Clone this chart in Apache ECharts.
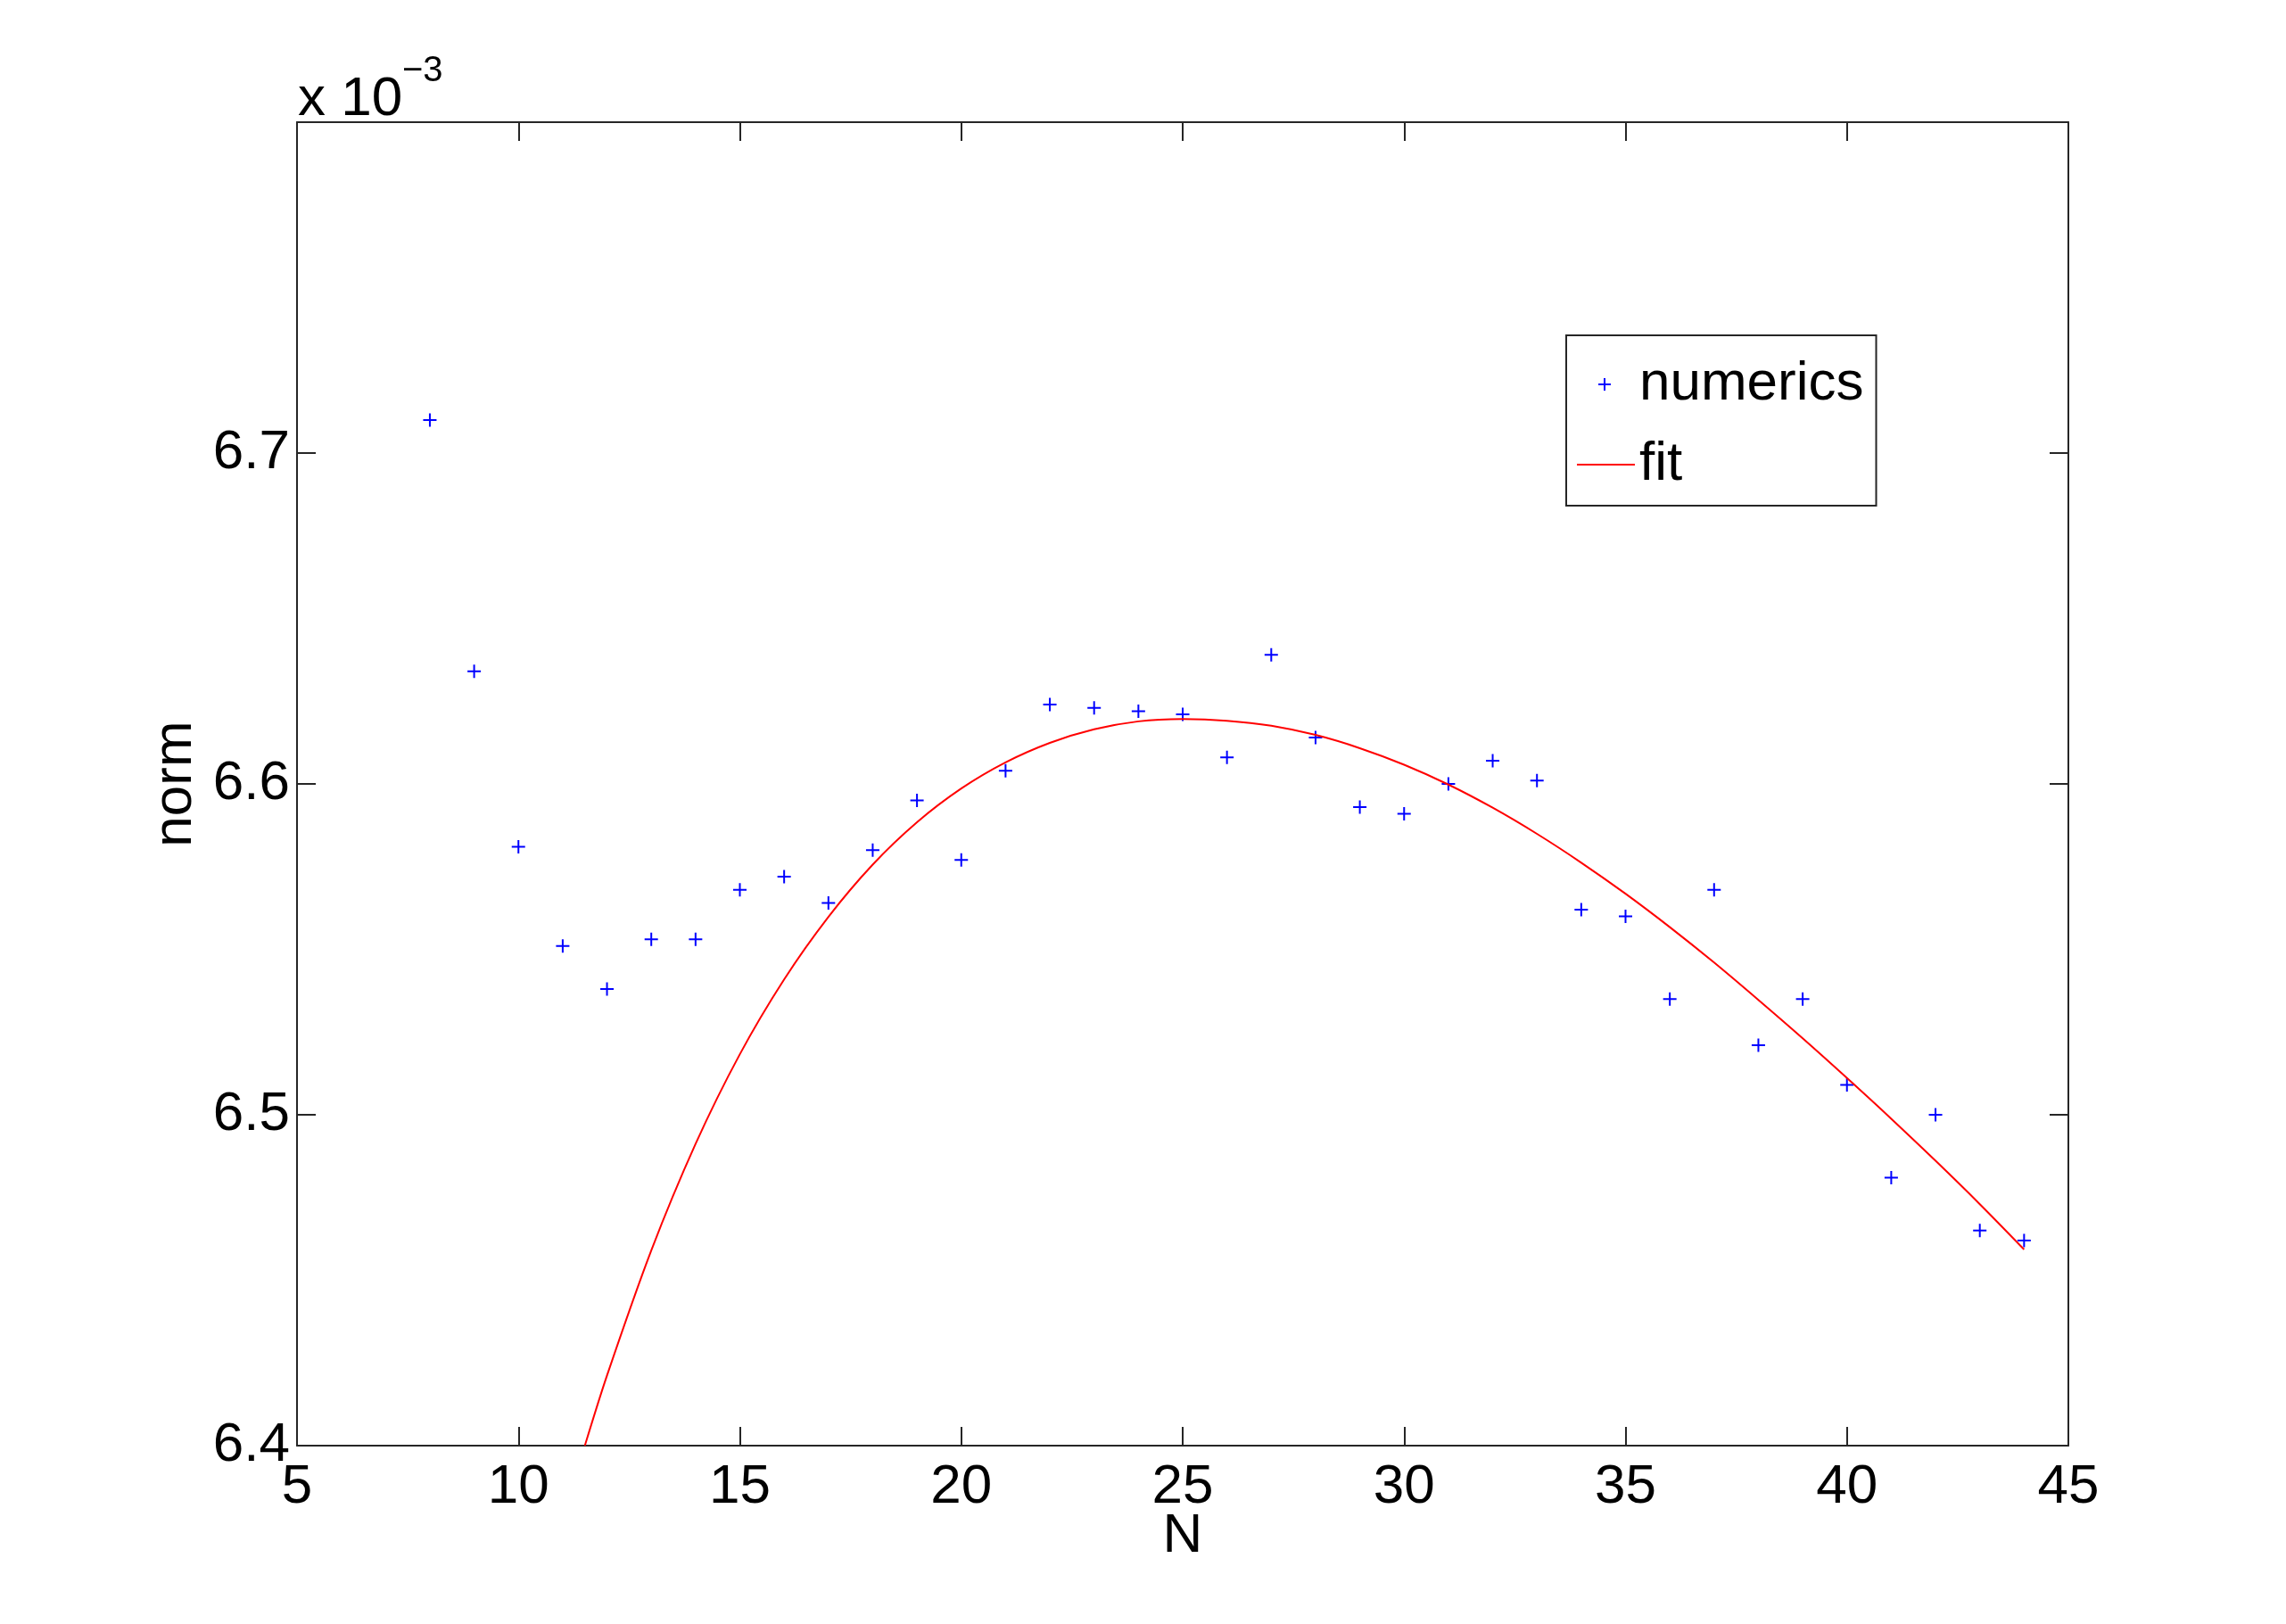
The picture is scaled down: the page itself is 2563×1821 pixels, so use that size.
<!DOCTYPE html>
<html><head><meta charset="utf-8">
<script src="https://cdn.jsdelivr.net/npm/echarts@6/dist/echarts.min.js"></script>
<style>html,body{margin:0;padding:0;background:#fff}#c{width:2563px;height:1821px}</style>
</head><body><div id="c"></div>
<script>
// x values of the numerical results
const nValues = [8,9,10,11,12,13,14,15,16,17,18,19,20,21,22,23,24,25,26,27,28,29,30,31,32,33,34,35,36,37,38,39,40,41,42,43,44];
// norm values, in units of 1e-3
const numerics = [6.710,6.634,6.581,6.551,6.538,6.553,6.553,6.568,6.572,6.564,6.580,6.595,6.577,6.604,6.624,6.623,6.622,6.621,6.608,6.639,6.614,6.593,6.591,6.600,6.607,6.601,6.562,6.560,6.535,6.568,6.521,6.535,6.509,6.481,6.500,6.465,6.462];
// fit curve
const fitN = [11.5,12,13,14,15,16,17,18,19,20,21,22,23,24,25,26,27,28,29,30,31,32,33,34,35,36,37,38,39,40,41,42,43,44];
const fitValues = [6.400,6.4212,6.4590,6.4912,6.5183,6.5409,6.5598,6.5756,6.5884,6.5986,6.6065,6.6124,6.6165,6.6189,6.6196,6.6191,6.6176,6.6148,6.6108,6.6058,6.5998,6.5928,6.5849,6.5762,6.5668,6.5567,6.5460,6.5347,6.5231,6.5111,6.4988,6.4861,6.4730,6.4593];
const xTicks = {min: 5, max: 45, interval: 5};
const yTicks = {min: 6.4, max: 6.8, interval: 0.1};
const seriesNames = ['numerics', 'fit'];
const yLabel = 'norm';
const xLabel = 'N';

const FONT = '"Liberation Sans", Arial, Helvetica, sans-serif';
const AX = '#262626';
const plus = 'path://M0,7L14,7M7,0L7,14';

const chart = echarts.init(document.getElementById('c'), null, {renderer: 'canvas'});
const axisCommon = {
  axisLine: {show: true, onZero: false, lineStyle: {color: AX, width: 2}},
  axisTick: {show: true, inside: true, length: 21, lineStyle: {color: AX, width: 2}},
  splitLine: {show: false}
};
chart.setOption({
  animation: false,
  backgroundColor: '#fff',
  grid: {left: 333, right: 244, top: 137, bottom: 200, containLabel: false},
  xAxis: [
    Object.assign({type: 'value', position: 'bottom', min: xTicks.min, max: xTicks.max, interval: xTicks.interval,
      name: xLabel, nameLocation: 'middle', nameGap: 71, nameMoveOverlap: false,
      nameTextStyle: {fontFamily: FONT, fontSize: 62, color: '#000'},
      axisLabel: {show: true, margin: 16, fontFamily: FONT, fontSize: 62, color: '#000', showMinLabel: true, showMaxLabel: true}}, axisCommon),
    Object.assign({type: 'value', position: 'top', min: xTicks.min, max: xTicks.max, interval: xTicks.interval,
      axisLabel: {show: false}}, axisCommon)
  ],
  yAxis: [
    Object.assign({type: 'value', position: 'left', min: yTicks.min, max: yTicks.max, interval: yTicks.interval,
      name: yLabel, nameLocation: 'middle', nameGap: 103,
      nameTextStyle: {fontFamily: FONT, fontSize: 62, color: '#000'},
      axisLabel: {show: true, margin: 8, fontFamily: FONT, fontSize: 62, color: '#000',
        formatter: v => (v > 6.75 ? '' : v.toFixed(1))}}, axisCommon),
    Object.assign({type: 'value', position: 'right', min: yTicks.min, max: yTicks.max, interval: yTicks.interval,
      axisLabel: {show: false}}, axisCommon)
  ],
  legend: {
    show: true, orient: 'vertical', left: 1756, top: 376,
    backgroundColor: '#fff', borderColor: AX, borderWidth: 2,
    padding: [24, 14, 15, 11], itemGap: 28, itemWidth: 65, itemHeight: 30,
    textStyle: {fontFamily: FONT, fontSize: 62, color: '#000', lineHeight: 62},
    data: [
      {name: seriesNames[0], icon: 'path://M0,0M65,30M24,15L38,15M31,8L31,22',
       itemStyle: {color: '#0000ff', borderColor: '#0000ff', borderWidth: 2}},
      {name: seriesNames[1], icon: 'path://M0,0M65,30M0,15L65,15',
       itemStyle: {color: '#ff0000', borderColor: '#ff0000', borderWidth: 2}}
    ]
  },
  graphic: [
    {type: 'text', left: 334, top: 81, style: {text: 'x 10', font: '62px ' + FONT, fill: '#000'}},
    {type: 'text', left: 451, top: 60, style: {text: '\u22123', font: '40px ' + FONT, fill: '#000'}}
  ],
  series: [
    {name: seriesNames[0], type: 'scatter', xAxisIndex: 0, yAxisIndex: 0,
     symbol: plus, symbolSize: 15,
     itemStyle: {color: '#0000ff', borderColor: '#0000ff', borderWidth: 2, opacity: 1},
     data: nValues.map((n, i) => [n, numerics[i]])},
    {name: seriesNames[1], type: 'line', xAxisIndex: 0, yAxisIndex: 0,
     symbol: 'none', showSymbol: false, smooth: 0.3,
     lineStyle: {color: '#ff0000', width: 2}, itemStyle: {color: '#ff0000'},
     data: fitN.map((n, i) => [n, fitValues[i]])}
  ]
});
</script></body></html>
